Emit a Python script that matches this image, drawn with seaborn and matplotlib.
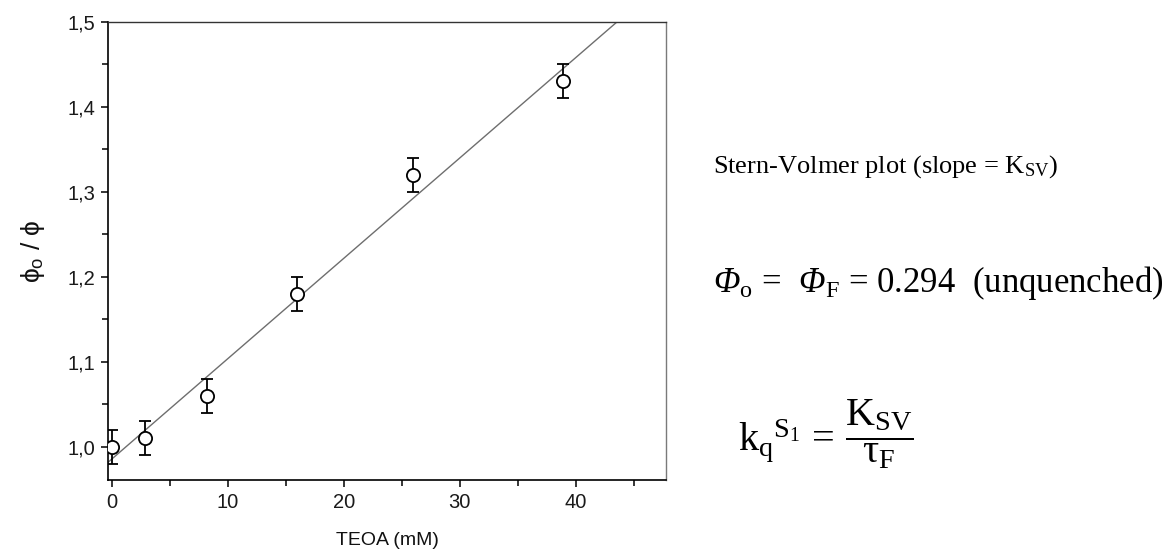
import numpy as np
import matplotlib
matplotlib.use("Agg")
import matplotlib.pyplot as plt
from matplotlib.ticker import FixedLocator, MultipleLocator, FixedFormatter
import seaborn as sns

# ---- data ----
teoa_mM = [0.0, 2.8, 8.2, 16.0, 26.0, 38.9]
phi_ratio = [1.000, 1.010, 1.060, 1.180, 1.320, 1.430]
phi_err = [0.020, 0.020, 0.020, 0.020, 0.020, 0.020]

x_ticks = [0, 10, 20, 30, 40]
x_tick_labels = ["0", "10", "20", "30", "40"]
y_ticks = [1.0, 1.1, 1.2, 1.3, 1.4, 1.5]
y_tick_labels = ["1,0", "1,1", "1,2", "1,3", "1,4", "1,5"]

x_label = "TEOA (mM)"
y_label = "ϕ$_\\mathtt{o}$ / ϕ"

sns.set_theme(style="ticks")
plt.rcParams["font.family"] = ["Liberation Sans", "DejaVu Sans"]
plt.rcParams["mathtext.fontset"] = "custom"
plt.rcParams["mathtext.rm"] = "Liberation Serif"
plt.rcParams["mathtext.it"] = "Liberation Serif:italic"
plt.rcParams["mathtext.bf"] = "Liberation Serif:bold"
plt.rcParams["mathtext.sf"] = "Liberation Serif:italic"
plt.rcParams["mathtext.tt"] = "Liberation Sans"

fig = plt.figure(figsize=(11.73, 5.54), dpi=100)
ax = fig.add_axes([108 / 1173, 1 - 480 / 554, (666 - 108) / 1173, (480 - 22) / 554])

xlim = (-0.35, 47.8)
ylim = (0.961, 1.5)

# linear fit (Stern-Volmer)
slope, intercept = np.polyfit(teoa_mM, phi_ratio, 1)
fit_x = np.array(xlim)
fit_y = intercept + slope * fit_x
sns.lineplot(x=fit_x, y=fit_y, ax=ax, color="#6e6e6e", linewidth=1.0, zorder=2)

ax.errorbar(teoa_mM, phi_ratio, yerr=phi_err, fmt="o", ms=9.5, mfc="white",
            mec="black", mew=1.3, ecolor="black", elinewidth=1.3,
            capsize=4.3, capthick=1.3, zorder=3)

ax.set_xlim(*xlim)
ax.set_ylim(*ylim)

ax.xaxis.set_major_locator(FixedLocator(x_ticks))
ax.xaxis.set_major_formatter(FixedFormatter(x_tick_labels))
ax.xaxis.set_minor_locator(MultipleLocator(5))
ax.yaxis.set_major_locator(FixedLocator(y_ticks))
ax.yaxis.set_major_formatter(FixedFormatter(y_tick_labels))
ax.yaxis.set_minor_locator(MultipleLocator(0.05))

ax.tick_params(which="both", direction="out", color="black", width=1.1,
               top=False, right=False, labelsize=14.5, labelcolor="#1a1a1a", pad=4)
ax.tick_params(which="major", length=5)
ax.tick_params(which="minor", length=4.5)

for side in ["left", "bottom"]:
    ax.spines[side].set_color("black")
    ax.spines[side].set_linewidth(1.2)
ax.spines["top"].set_color("#333333")
ax.spines["top"].set_linewidth(1.0)
ax.spines["right"].set_color("#7a7a7a")
ax.spines["right"].set_linewidth(1.0)

ax.set_xlabel(x_label, fontsize=14, color="#111111", labelpad=15)
ax.set_ylabel(y_label, fontsize=19, color="#111111", labelpad=15)

serif = ["Liberation Serif", "DejaVu Serif"]
fig.text(713 / 1173, 1 - 167 / 554, r"Stern-Volmer plot (slope = K$_{\mathrm{SV}}$)",
         fontsize=19, family=serif, ha="left", va="center", color="black")
fig.text(713 / 1173, 1 - 283 / 554,
         r"$\mathsf{Φ}_{\mathrm{o}}$ =  $\mathsf{Φ}_{\mathrm{F}}$ = 0.294  (unquenched)",
         fontsize=25, family=serif, ha="left", va="center", color="black")
fig.text(738 / 1173, 1 - 434 / 554,
         r"$\mathrm{k_q}^{\mathrm{S}_1}\,=\,\dfrac{\mathrm{K_{SV}}}{\mathrm{τ_F}}$",
         fontsize=29, family=serif, ha="left", va="center", color="black")

fig.savefig("out.png", dpi=100)
